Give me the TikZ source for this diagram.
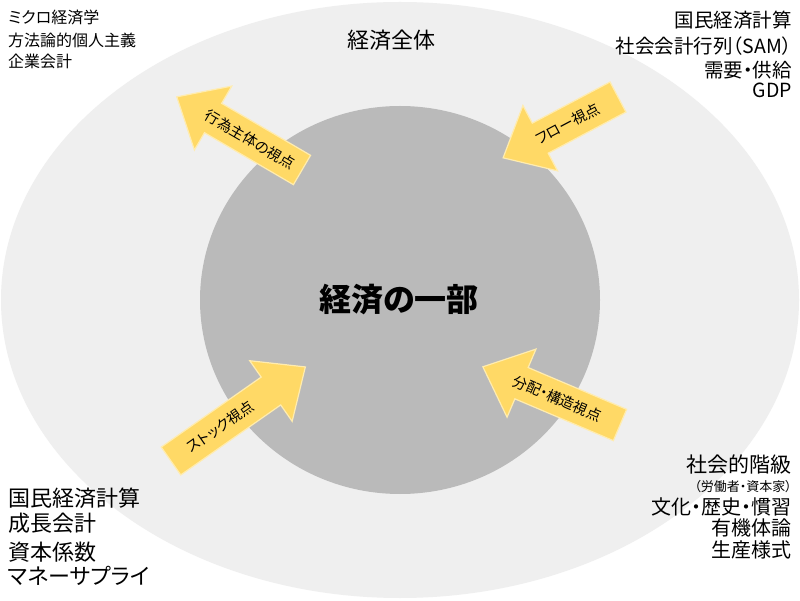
\documentclass[tikz,border=0pt]{standalone}
\usepackage{fontspec}
\setmainfont{Noto Sans CJK JP}[RawFeature=+palt]
\definecolor{outerfill}{RGB}{239,239,239}
\definecolor{innerfill}{RGB}{186,186,186}
\definecolor{arrowfill}{RGB}{255,217,102}
\definecolor{arrowedge}{RGB}{255,236,175}
\newcommand\fsz[1]{\fontsize{#1}{#1}\selectfont}
% #1 name, #2 tail x, #3 tail y, #4 direction angle, #5 length, #6 text, #7 text rotation, #8 text position along arrow
\newcommand\blockarrow[8]{%
  \begin{scope}[shift={(#2,#3)}, rotate=#4]
    \draw[arrowbody] (0,-17) -- ({#5-42},-17) -- ({#5-42},-37) -- (#5,0)
      -- ({#5-42},37) -- ({#5-42},17) -- (0,17) -- cycle;
    \node[lbl, font=\fsz{14.5}, rotate=#7] (#1) at (#8,0) {#6};
  \end{scope}}
\begin{document}
\begin{tikzpicture}[x=1pt,y=1pt,
  lbl/.style={inner sep=0pt, text=black},
  arrowbody/.style={fill=arrowfill, draw=arrowedge, line width=1.2pt, line join=miter}]
\path[use as bounding box, fill=white] (0,0) rectangle (800,600);
\fill[outerfill] (400,300) ellipse [x radius=399, y radius=298];
\fill[innerfill] (400,300) ellipse [x radius=200, y radius=194];

% arrows
\blockarrow{a1}{302}{430}{149.7}{145}{行為主体の視点}{-30.3}{60}
\blockarrow{a2}{618}{503}{207.9}{130}{フロー視点}{27.9}{57}
\blockarrow{a3}{171}{139}{35}{164}{ストック視点}{35}{60}
\blockarrow{a4}{620}{175}{157}{149}{分配・構造視点}{-23}{68}

% centre texts
\node[lbl, font=\fsz{22}] (whole) at (391,560) {経済全体};
\node[lbl, font=\bfseries\fsz{32}] (part) at (399,300) {経済の一部};

% top-left
\node[lbl, anchor=west, font=\fsz{16}] (tl1) at (8,583) {ミクロ経済学};
\node[lbl, anchor=west, font=\fsz{16}] (tl2) at (8,560) {方法論的個人主義};
\node[lbl, anchor=west, font=\fsz{16}] (tl3) at (8,539) {企業会計};

% top-right
\node[lbl, anchor=east, font=\fsz{19.5}] (tr1) at (792,580) {国民経済計算};
\node[lbl, anchor=east, font=\fsz{19.5}] (tr2) at (792,554) {社会会計行列（SAM）};
\node[lbl, anchor=east, font=\fsz{19.5}] (tr3) at (792,530) {需要・供給};
\node[lbl, anchor=east, font=\fsz{19.5}] (tr4) at (792,510) {GDP};

% bottom-left
\node[lbl, anchor=west, font=\fsz{22}] (bl1) at (8,102) {国民経済計算};
\node[lbl, anchor=west, font=\fsz{22}] (bl2) at (8,77) {成長会計};
\node[lbl, anchor=west, font=\fsz{22}] (bl3) at (8,48) {資本係数};
\node[lbl, anchor=west, font=\fsz{22}] (bl4) at (8,24) {マネーサプライ};

% bottom-right
\node[lbl, anchor=east, font=\fsz{21}] (br1) at (792,135) {社会的階級};
\node[lbl, anchor=east, font=\fsz{13}] (br2) at (792,113) {（労働者・資本家）};
\node[lbl, anchor=east, font=\fsz{20}] (br3) at (792,93) {文化・歴史・慣習};
\node[lbl, anchor=east, font=\fsz{20}] (br4) at (792,72) {有機体論};
\node[lbl, anchor=east, font=\fsz{20}] (br5) at (792,50) {生産様式};
\end{tikzpicture}
\end{document}
